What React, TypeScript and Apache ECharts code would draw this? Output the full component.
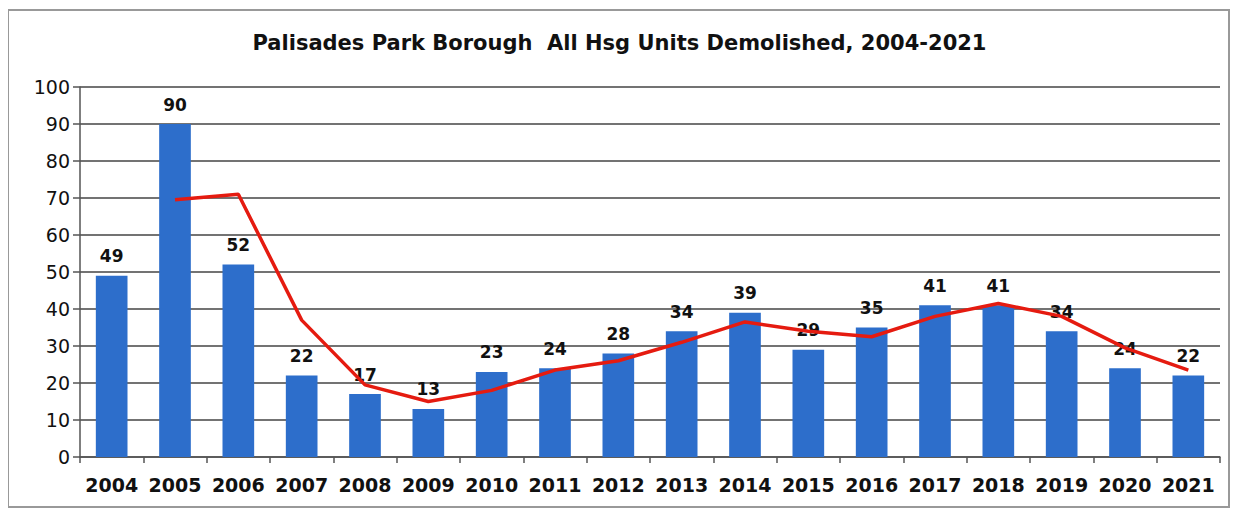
import React, { useEffect, useRef } from "react";
import * as echarts from "echarts";

const years = ["2004","2005","2006","2007","2008","2009","2010","2011","2012","2013","2014","2015","2016","2017","2018","2019","2020","2021"];
const demolished = [49, 90, 52, 22, 17, 13, 23, 24, 28, 34, 39, 29, 35, 41, 41, 34, 24, 22];
const trend = [null, 69.5, 71, 37, 19.5, 15, 18, 23.5, 26, 31, 36.5, 34, 32.5, 38, 41.5, 38, 29.5, 23.5];
const yTicks = [0, 100, 10];
const titleText = "Palisades Park Borough  All Hsg Units Demolished, 2004-2021";

export default function App() {
  const ref = useRef<HTMLDivElement>(null);
  useEffect(() => {
    if (!ref.current) return;
    const chart = echarts.init(ref.current, null, { renderer: "svg" });
    const font = "'DejaVu Sans', sans-serif";
    chart.setOption({
      animation: false,
      backgroundColor: "#ffffff",
      title: {
        text: titleText,
        left: "center",
        top: 19,
        textStyle: { fontFamily: font, fontWeight: "bold", fontSize: 21, color: "#111" },
      },
      graphic: [
        {
          type: "rect",
          shape: { x: 0, y: 2, width: 1221, height: 497 },
          style: { fill: "none", stroke: "#999", lineWidth: 2 },
          silent: true,
        },
      ],
      grid: { left: 72, right: 11, top: 79, bottom: 55, containLabel: false },
      xAxis: {
        type: "category",
        data: years,
        boundaryGap: true,
        axisLine: { lineStyle: { color: "#555", width: 1.5 } },
        axisTick: { show: true, alignWithLabel: false, length: 6, lineStyle: { color: "#555", width: 1.5 } },
        axisLabel: { fontFamily: font, fontWeight: "bold", fontSize: 19, color: "#111", margin: 18, interval: 0 },
      },
      yAxis: {
        type: "value",
        min: yTicks[0],
        max: yTicks[1],
        interval: yTicks[2],
        axisLine: { show: true, lineStyle: { color: "#555", width: 1.5 } },
        axisTick: { show: true, length: 7, lineStyle: { color: "#555", width: 1.5 } },
        splitLine: { show: true, lineStyle: { color: "#444", width: 1.5 } },
        axisLabel: { fontFamily: font, fontSize: 19, color: "#111", margin: 10 },
      },
      series: [
        {
          type: "bar",
          data: demolished,
          barWidth: "50%",
          itemStyle: { color: "#2d6ecb" },
          label: {
            show: true,
            position: "top",
            distance: 11,
            fontFamily: font,
            fontWeight: "bold",
            fontSize: 17,
            color: "#111",
          },
          z: 2,
        },
        {
          type: "line",
          data: trend,
          showSymbol: false,
          symbol: "none",
          lineStyle: { color: "#e51b10", width: 3.5 },
          z: 3,
        },
      ],
    });
    return () => chart.dispose();
  }, []);
  return <div ref={ref} style={{ width: 1223, height: 504 }} />;
}
